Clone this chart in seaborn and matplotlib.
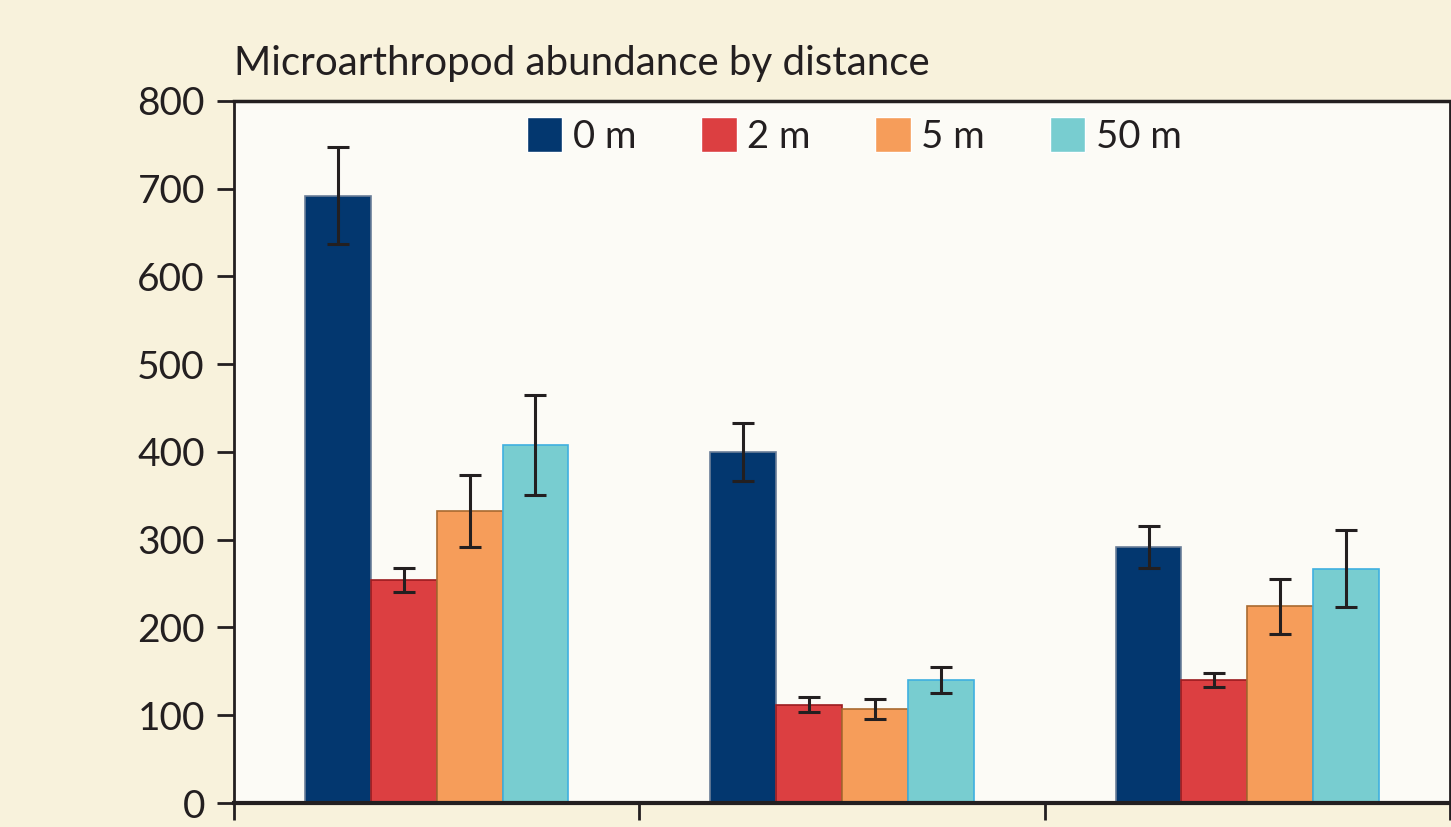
import pandas as pd
import matplotlib.pyplot as plt
import seaborn as sns

# values
sites = ['A', 'B', 'C']
distances = ['0 m', '2 m', '5 m', '50 m']
abundance = {
    '0 m': [692, 400, 292],
    '2 m': [254, 112, 140],
    '5 m': [333, 107, 224],
    '50 m': [408, 140, 267],
}
errors = {
    '0 m': [55, 33, 24],
    '2 m': [14, 8.5, 8],
    '5 m': [41, 11, 31],
    '50 m': [57, 15, 44],
}
colors = ['#03376f', '#dc3f41', '#f69d5a', '#78cdd0']
edges = ['#6b7f99', '#9b1c20', '#a86a30', '#3fb0e0']

rows = []
for d in distances:
    for s, v, e in zip(sites, abundance[d], errors[d]):
        rows.append({'site': s, 'distance': d, 'abundance': v, 'err': e})
df = pd.DataFrame(rows)

sns.set_style('white')
plt.rcParams['font.family'] = ['Lato', 'DejaVu Sans']

fig = plt.figure(figsize=(14.51, 8.27), dpi=100, facecolor='#f8f2dc')
ax = fig.add_axes([0.1613, 0.029, 0.8380, 0.849])
ax.set_facecolor('#fcfbf6')

sns.barplot(data=df, x='site', y='abundance', hue='distance', order=sites,
            hue_order=distances, palette=colors, width=0.65, errorbar=None,
            saturation=1, ax=ax)

for container, d, ec in zip(ax.containers, distances, edges):
    xs = []
    for bar in container:
        bar.set_edgecolor(ec)
        bar.set_linewidth(1.2)
        xs.append(bar.get_x() + bar.get_width() / 2)
    ax.errorbar(xs, abundance[d], yerr=errors[d], fmt='none', ecolor='#231f20',
                elinewidth=2.2, capsize=8, capthick=2.2, zorder=5)

ax.set_xlim(-0.5, 2.5)
ax.set_ylim(0, 800)
ax.set_yticks(range(0, 801, 100))
ax.set_xticks([-0.5, 0.5, 1.5, 2.5])
ax.set_xticklabels([])
ax.set_xlabel('')
ax.set_ylabel('')
ax.tick_params(axis='both', direction='out', length=12, width=2, color='#231f20',
               labelsize=28, labelcolor='#231f20', left=True, bottom=True, pad=9)
for side in ['left', 'right', 'top', 'bottom']:
    ax.spines[side].set_color('#231f20')
    ax.spines[side].set_linewidth(2)
ax.spines['bottom'].set_linewidth(3)
ax.spines['top'].set_linewidth(2.5)

fig.text(0.1613, 0.923, 'Microarthropod abundance by distance', fontsize=29,
         color='#231f20', ha='left', va='center')

ax.legend(loc='center', bbox_to_anchor=(0.51, 0.95), ncol=4, frameon=False,
          fontsize=27.5, handlelength=0.93, handleheight=1.0, handletextpad=0.27,
          columnspacing=1.7, labelcolor='#231f20')

fig.savefig('out.png', dpi=100, facecolor=fig.get_facecolor())
